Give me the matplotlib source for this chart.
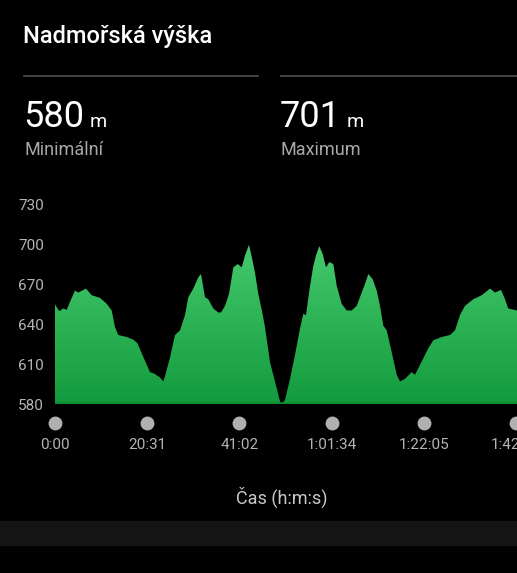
import numpy as np
import matplotlib as mpl
import matplotlib.pyplot as plt
from matplotlib.colors import LinearSegmentedColormap

mpl.rcParams['font.family'] = ['Roboto', 'DejaVu Sans']

TITLE = "Nadmořská výška"
MIN_VAL, MIN_LABEL = "580", "Minimální"
MAX_VAL, MAX_LABEL = "701", "Maximum"
XLABEL = "Čas (h:m:s)"

# time in minutes, elevation in m
time_min = [0.0, 0.96, 1.85, 2.60, 3.34, 4.45, 5.18, 6.89, 8.16, 10.01,
            11.50, 12.61, 13.34, 14.08, 15.95, 17.41, 18.30, 19.64, 21.13, 22.02,
            23.35, 24.09, 24.46, 25.58, 26.69, 27.80, 28.91, 29.65, 30.76, 31.87,
            32.47, 33.36, 34.09, 35.21, 36.32, 36.92, 37.81, 38.70, 39.66, 40.64,
            41.53, 42.26, 43.15, 43.88, 44.48, 45.22, 46.10, 46.70, 47.82, 48.93,
            50.04, 50.42, 51.16, 52.27, 53.38, 54.49, 55.22, 55.82, 56.71, 57.45,
            58.05, 58.78, 59.54, 60.27, 61.01, 61.90, 62.66, 63.76, 64.88, 65.99,
            67.10, 67.99, 68.95, 69.68, 70.66, 71.55, 72.28, 73.02, 73.77, 74.89,
            76.00, 76.73, 77.84, 79.33, 80.06, 81.55, 83.02, 84.13, 86.00, 87.85,
            88.96, 90.07, 91.18, 93.03, 94.90, 96.74, 97.86, 99.19, 100.08, 100.81,
            102.75]
elev = [655, 650, 652, 651, 657, 665.5, 664, 667, 662, 660,
        655.5, 650.5, 638, 632, 630.5, 628.5, 626, 615.5, 604, 603,
        600, 597, 601, 615, 632, 635.5, 647, 660.5, 667, 675.5,
        678, 660.5, 659, 652, 649, 649, 654, 663, 683, 685.5,
        683, 692, 700, 689, 679, 663, 649, 638, 611.5, 597,
        582, 580, 583, 599, 617, 637, 648, 647, 669, 684,
        692, 699, 693, 683, 687, 685.5, 669, 655.5, 650.5, 650.5,
        654, 662, 670.5, 678, 674, 665.5, 654, 639, 635.5, 619,
        602, 597, 599, 604, 602, 612, 622, 628, 630.5, 632,
        635.5, 647, 654, 659, 662, 667, 664, 666, 659, 652,
        650.5]

yticks = [580, 610, 640, 670, 700, 730]
xticks = [0, 20.52, 41.03, 61.56, 82.08, 102.6]
xticklabels = ["0:00", "20:31", "41:02", "1:01:34", "1:22:05", "1:42:36"]

W, H = 517, 573
fig = plt.figure(figsize=(W / 100, H / 100), dpi=100, facecolor='black')

def fx(px):
    return px / W

def fy(py):
    return 1 - py / H

# header texts
fig.text(fx(23), fy(37), TITLE, color='white', fontsize=17, fontweight='medium', va='center', ha='left')
fig.add_artist(plt.Line2D([fx(24), fx(258)], [fy(76), fy(76)], color='#4a4a4a', lw=1.3))
fig.add_artist(plt.Line2D([fx(281), fx(517)], [fy(76), fy(76)], color='#4a4a4a', lw=1.3))

for x0, val, lab in [(24, MIN_VAL, MIN_LABEL), (281, MAX_VAL, MAX_LABEL)]:
    t = fig.text(fx(x0 - 1), fy(127), val, color='white', fontsize=26, va='baseline', ha='left')
    fig.canvas.draw()
    bb = t.get_window_extent()
    fig.text(fx(bb.x1 + 6), fy(127), "m", color='white', fontsize=14, va='baseline', ha='left')
    fig.text(fx(x0), fy(150), lab, color='#a8a8a8', fontsize=13, va='center', ha='left')

# chart
ax = fig.add_axes([fx(55), fy(404), fx(517) - fx(55), fy(205) - fy(404)])
ax.set_facecolor('black')
ax.set_xlim(0, 102.75)
ax.set_ylim(580, 730)

poly = ax.fill_between(time_min, elev, 580, color='none', lw=0)
cmap = LinearSegmentedColormap.from_list('g', ['#129b3e', '#45c96c'])
grad = np.linspace(0, 1, 256).reshape(-1, 1)
im = ax.imshow(grad, cmap=cmap, aspect='auto', origin='lower',
               extent=[0, 102.75, 580, 700], zorder=1)
path = poly.get_paths()[0]
im.set_clip_path(path, transform=ax.transData)
ax.axhline(580.4, color='#0c8a33', lw=1.2, zorder=2)

for s in ax.spines.values():
    s.set_visible(False)
ax.set_yticks(yticks)
ax.set_yticklabels([str(v) for v in yticks])
ax.tick_params(axis='y', length=0, pad=8, colors='#b4b4b4', labelsize=11)
ax.set_xticks([])

# x tick dots and labels
for xt, lab in zip(xticks, xticklabels):
    ax.plot([xt], [580 - 19 * 0.75], 'o', ms=10, color='#b0b0b0', mec='none', clip_on=False)
    ax.text(xt, 580 - 41 * 0.75, lab, color='#b4b4b4', fontsize=11, ha='center', va='center', clip_on=False)

fig.text(fx(282), fy(497), XLABEL, color='#c8c8c8', fontsize=13, ha='center', va='center')

fig.add_artist(plt.Rectangle((0, fy(545)), 1, fy(521) - fy(545), color='#141414', transform=fig.transFigure))

fig.savefig('out.png', dpi=100, facecolor='black')
